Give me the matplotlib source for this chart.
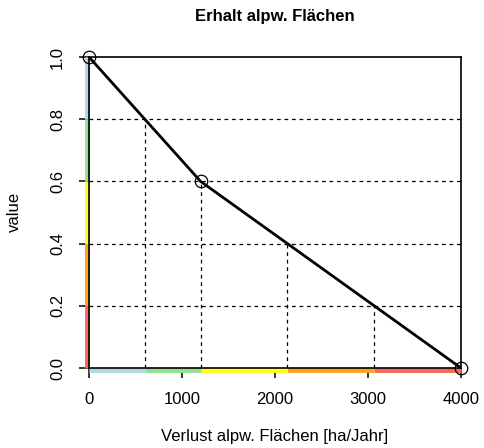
import matplotlib
matplotlib.use("Agg")
import matplotlib.pyplot as plt
import numpy as np

plt.rcParams['font.family'] = ['Liberation Sans', 'DejaVu Sans']

# data
curve_x = [0, 1200, 4000]
curve_y = [1.0, 0.6, 0.0]
levels = [0.2, 0.4, 0.6, 0.8]
level_x = [3067, 2133, 1200, 600]
class_bounds_y = [0.0, 0.2, 0.4, 0.6, 0.8, 1.0]
class_bounds_x = [4000, 3067, 2133, 1200, 600, 0]
class_colors = ['#f46a5a', '#ffa31a', '#ffff1a', '#8fe08f', '#add8e6']
xticks = [0, 1000, 2000, 3000, 4000]
yticks = [0.0, 0.2, 0.4, 0.6, 0.8, 1.0]
title = "Erhalt alpw. Flächen"
xlabel = "Verlust alpw. Flächen [ha/Jahr]"
ylabel = "value"

fig = plt.figure(figsize=(4.84, 4.48), dpi=100)
ax = fig.add_axes([89/484, 1-368/448, (461-89)/484, (368-57)/448])
ax.set_xlim(0, 4000)
ax.set_ylim(0, 1)

# colored class segments along axes
dx = 25
dy = 0.008
for i, c in enumerate(class_colors):
    ax.plot([-dx, -dx], [class_bounds_y[i], class_bounds_y[i+1]], color=c, lw=3.5,
            clip_on=False, solid_capstyle='butt', zorder=2)
    ax.plot([class_bounds_x[i], class_bounds_x[i+1]], [-dy, -dy], color=c, lw=3.5,
            clip_on=False, solid_capstyle='butt', zorder=2)

# dashed guides
for lv, lx in zip(levels, level_x):
    ax.plot([0, 4000], [lv, lv], color='black', lw=0.9, ls=(0, (3, 3)), zorder=3)
    ax.plot([lx, lx], [0, lv], color='black', lw=0.9, ls=(0, (3, 3)), zorder=3)

ax.plot(curve_x, curve_y, color='black', lw=2, zorder=4)
ax.plot(curve_x, curve_y, ls='none', marker='o', ms=9, mfc='none', mec='black',
        mew=0.9, clip_on=False, zorder=5)

for s in ax.spines.values():
    s.set_linewidth(1.2)
    s.set_zorder(4)

ax.set_xticks(xticks)
ax.set_xticklabels([str(t) for t in xticks], fontsize=12)
ax.set_yticks(yticks)
ax.set_yticklabels([f"{t:.1f}" for t in yticks], fontsize=12, rotation=90, va='center')
ax.tick_params(direction='out', length=7.2, width=1.1, pad=10)

fig.text(275/484, 1-17/448, title, ha='center', va='center', fontsize=12, fontweight='bold')
fig.text(275/484, 1-436/448, xlabel, ha='center', va='center', fontsize=12)
fig.text(14.5/484, 1-212/448, ylabel, ha='center', va='center', fontsize=12, rotation=90)

fig.savefig("out.png", dpi=100)
